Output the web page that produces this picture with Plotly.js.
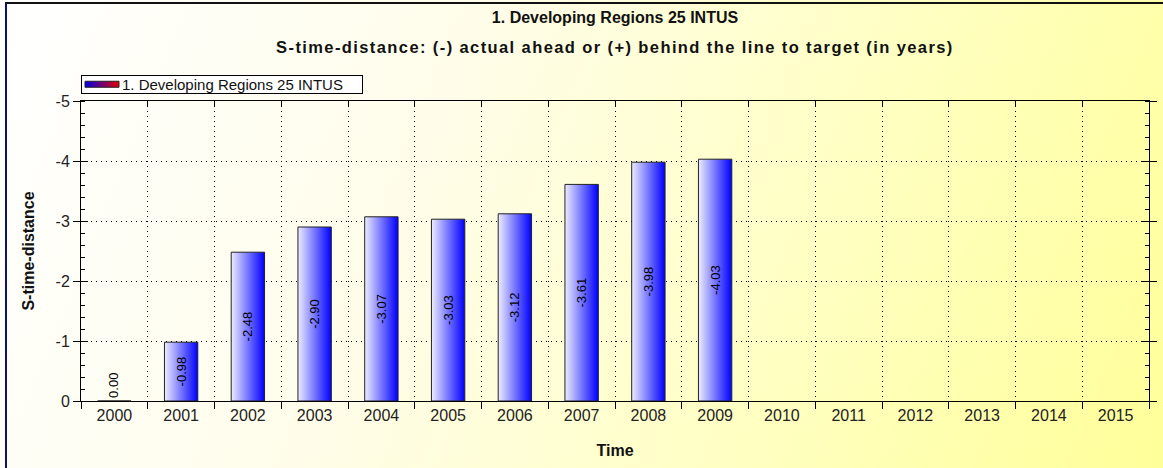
<!DOCTYPE html>
<html>
<head>
<meta charset="utf-8">
<script src="https://cdn.plot.ly/plotly-3.0.1.min.js"></script>
<style>
  html, body { margin: 0; padding: 0; }
  body { width: 1163px; height: 468px; overflow: hidden; position: relative;
         background: linear-gradient(112deg, #ffffff 0%, #fffdea 35%, #ffffc0 70%, #ffff99 100%); }
  #frame { position: absolute; left: 5px; top: 2px; right: 0; bottom: 0;
           border-top: 2px solid #111; border-left: 2px solid #10106e; pointer-events: none; }
  #chart { position: absolute; left: 0; top: 0; width: 1163px; height: 468px; }
  .annotation[data-index="0"] text { letter-spacing: 1.4px; }
</style>
</head>
<body>
<div id="chart"></div>
<div id="frame"></div>
<script>
// ---- data ----
const years = ['2000','2001','2002','2003','2004','2005','2006','2007','2008','2009','2010','2011','2012','2013','2014','2015'];
const values = [0.00, -0.98, -2.48, -2.90, -3.07, -3.03, -3.12, -3.61, -3.98, -4.03, null, null, null, null, null, null];
const seriesName = '1. Developing Regions 25 INTUS';
const titleLine1 = '1. Developing Regions 25 INTUS';
const titleLine2 = 'S-time-distance: (-) actual ahead or (+) behind the line to target (in years)';
const xTitle = 'Time';
const yTitle = 'S-time-distance';
const yTickVals = [0, -1, -2, -3, -4, -5];
const yTickText = ['0', '-1', '-2', '-3', '-4', '-5'];
const yGridVals = [-1, -2, -3, -4];

const labels = values.map(v => v == null ? '' : v.toFixed(2));
const textPos = values.map(v => (v == null || v === 0) ? 'none' : 'inside');

const FONT = 'Liberation Sans, Arial, sans-serif';

const barTrace = {
  type: 'bar', x: years, y: values, name: seriesName,
  width: 0.5,
  marker: { color: '#3030ff', line: { color: '#222', width: 1 } },
  text: labels, textposition: textPos, textangle: -90,
  insidetextanchor: 'middle', constraintext: 'none',
  textfont: { family: FONT, size: 13, color: '#000' },
  showlegend: true, hoverinfo: 'skip'
};
const dummy = {
  type: 'scatter', mode: 'markers', x: years, y: values,
  xaxis: 'x2', yaxis: 'y2', marker: { opacity: 0 }, showlegend: false, hoverinfo: 'skip'
};

const zeroAnn = [];
values.forEach((v, i) => {
  if (v === 0) zeroAnn.push({
    x: i, y: v, xref: 'x', yref: 'y', text: labels[i], showarrow: false,
    textangle: -90, yanchor: 'bottom', xanchor: 'center', yshift: 1, xshift: -1,
    font: { family: FONT, size: 13, color: '#000' }
  });
});

const layout = {
  width: 1163, height: 468,
  margin: { l: 81, r: 14, t: 101, b: 67, pad: 0 },
  paper_bgcolor: 'rgba(0,0,0,0)', plot_bgcolor: 'rgba(0,0,0,0)',
  font: { family: FONT, size: 16, color: '#222' },
  title: { text: titleLine1, x: 0.5, xref: 'paper', xanchor: 'center',
           y: 1 - 17 / 468, yref: 'container', yanchor: 'middle',
           font: { family: FONT, size: 16, weight: 'bold', color: '#111' } },
  showlegend: true,
  legend: { x: 0, xanchor: 'left', y: (401 - 84.5) / 300, yanchor: 'middle', bgcolor: '#ffffff',
            bordercolor: '#000', borderwidth: 1, font: { family: FONT, size: 15, color: '#111' },
            itemwidth: 30 },
  xaxis: {
    type: 'category', categoryorder: 'array', categoryarray: years, range: [-0.5, 15.5],
    tickson: 'boundaries', ticks: 'outside', ticklen: 7, tickcolor: '#000', tickwidth: 1,
    showline: true, linecolor: '#000', linewidth: 1, mirror: true,
    showgrid: true, gridcolor: '#000', griddash: '1px,4px', gridwidth: 1,
    tickfont: { family: FONT, size: 16, color: '#222' },
    title: { text: xTitle, standoff: 21, font: { family: FONT, size: 16, weight: 'bold', color: '#111' } },
    zeroline: false, fixedrange: true
  },
  xaxis2: {
    overlaying: 'x', side: 'top', type: 'category', categoryorder: 'array', categoryarray: years,
    range: [-0.5, 15.5], tickson: 'boundaries', ticks: 'inside', ticklen: 5, tickcolor: '#000',
    showticklabels: false, showgrid: false, showline: true, linecolor: '#000', zeroline: false
  },
  yaxis: {
    range: [0, -5], tickvals: yTickVals, ticktext: yTickText,
    ticks: 'outside', ticklen: 7, tickcolor: '#000', tickwidth: 1,
    minor: { dtick: 0.2, ticks: 'inside', ticklen: 4, tickcolor: '#000', tickwidth: 1, showgrid: false },
    showline: true, linecolor: '#000', linewidth: 1, mirror: 'ticks',
    showgrid: false, zeroline: false,
    tickfont: { family: FONT, size: 16, color: '#222' },
    title: { text: yTitle, standoff: 16, font: { family: FONT, size: 16, weight: 'bold', color: '#111' } },
    fixedrange: true
  },
  yaxis2: {
    overlaying: 'y', side: 'left', range: [0, -5], tickvals: yGridVals,
    ticks: 'inside', ticklen: 7, tickcolor: '#000', mirror: 'ticks',
    showticklabels: false, showline: true, linecolor: '#000',
    showgrid: true, gridcolor: '#000', griddash: '1px,4px', gridwidth: 1, zeroline: false
  },
  annotations: [
    { text: titleLine2, xref: 'paper', yref: 'paper', x: 0.5, y: (401 - 47) / 300,
      xanchor: 'center', yanchor: 'middle', showarrow: false,
      font: { family: FONT, size: 16.5, weight: 'bold', color: '#111' } }
  ].concat(zeroAnn),
  bargap: 0.5
};

Plotly.newPlot('chart', [barTrace, dummy], layout, { staticPlot: true, displayModeBar: false }).then(gd => {
  const svg = gd.querySelector('.main-svg');
  const ns = 'http://www.w3.org/2000/svg';
  let defs = svg.querySelector('defs');
  if (!defs) { defs = document.createElementNS(ns, 'defs'); svg.insertBefore(defs, svg.firstChild); }
  function grad(id, c1, c2) {
    const g = document.createElementNS(ns, 'linearGradient');
    g.setAttribute('id', id); g.setAttribute('x1', '0'); g.setAttribute('x2', '1');
    g.setAttribute('y1', '0'); g.setAttribute('y2', '0');
    [[0, c1], [1, c2]].forEach(([o, c]) => {
      const s = document.createElementNS(ns, 'stop');
      s.setAttribute('offset', o); s.setAttribute('stop-color', c);
      g.appendChild(s);
    });
    defs.appendChild(g);
  }
  grad('barGrad', '#ececff', '#0000ff');
  grad('legGrad', '#0000e8', '#e80000');
  gd.querySelectorAll('.bars .point path').forEach(p => { p.style.fill = 'url(#barGrad)'; p.style.fillOpacity = 1; });
  gd.querySelectorAll('.legend .legendpoints path').forEach(p => {
    p.setAttribute('d', 'M17,3H-17V-3H17Z');
    p.style.fill = 'url(#legGrad)'; p.style.stroke = '#222'; p.style.strokeWidth = '1px';
  });
  // make the legend frame as compact as the original one
  const bg = gd.querySelector('.legend .bg');
  if (bg) {
    const h = parseFloat(bg.getAttribute('height'));
    const w = parseFloat(bg.getAttribute('width'));
    const target = 18;
    const y0 = parseFloat(bg.getAttribute('y') || 0);
    bg.setAttribute('y', y0 + (h - target) / 2);
    bg.setAttribute('height', target);
    bg.setAttribute('width', w + 14);
  }
});
</script>
</body>
</html>
